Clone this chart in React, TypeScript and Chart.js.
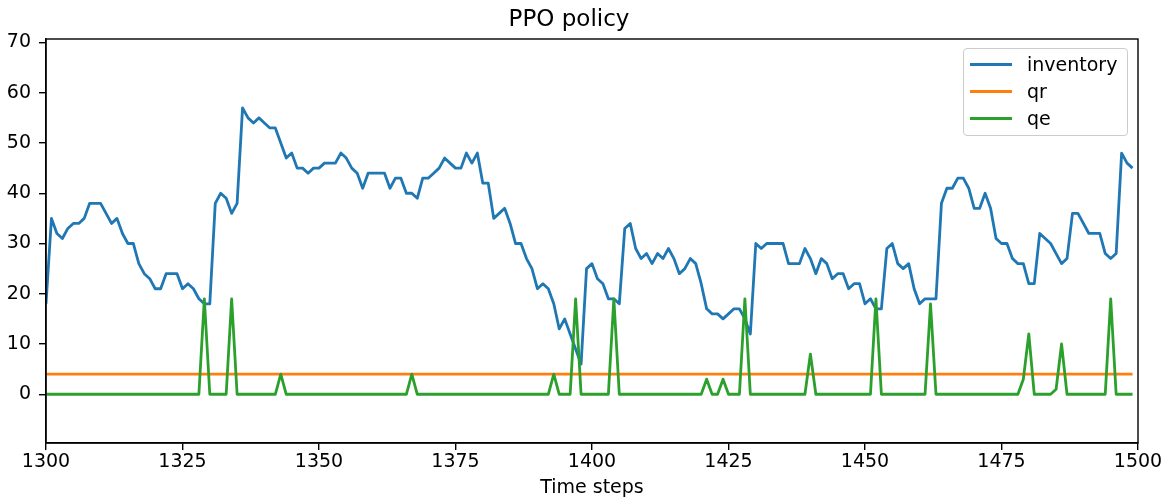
import React, { useEffect, useRef } from "react";
import { Chart, registerables } from "chart.js";

Chart.register(...registerables);

const startStep = 1300;

const inventory = [
  18, 35, 32, 31, 33, 34, 34, 35, 38, 38, 38, 36, 34, 35, 32, 30, 30, 26, 24, 23,
  21, 21, 24, 24, 24, 21, 22, 21, 19, 18, 18, 38, 40, 39, 36, 38, 57, 55, 54, 55,
  54, 53, 53, 50, 47, 48, 45, 45, 44, 45, 45, 46, 46, 46, 48, 47, 45, 44, 41, 44,
  44, 44, 44, 41, 43, 43, 40, 40, 39, 43, 43, 44, 45, 47, 46, 45, 45, 48, 46, 48,
  42, 42, 35, 36, 37, 34, 30, 30, 27, 25, 21, 22, 21, 18, 13, 15, 12, 9, 6, 25,
  26, 23, 22, 19, 19, 18, 33, 34, 29, 27, 28, 26, 28, 27, 29, 27, 24, 25, 27, 26,
  22, 17, 16, 16, 15, 16, 17, 17, 15, 12, 30, 29, 30, 30, 30, 30, 26, 26, 26, 29,
  27, 24, 27, 26, 23, 24, 24, 21, 22, 22, 18, 19, 17, 17, 29, 30, 26, 25, 26, 21,
  18, 19, 19, 19, 38, 41, 41, 43, 43, 41, 37, 37, 40, 37, 31, 30, 30, 27, 26, 26,
  22, 22, 32, 31, 30, 28, 26, 27, 36, 36, 34, 32, 32, 32, 28, 27, 28, 48, 46, 45,
];

const qe = [
  0, 0, 0, 0, 0, 0, 0, 0, 0, 0, 0, 0, 0, 0, 0, 0, 0, 0, 0, 0,
  0, 0, 0, 0, 0, 0, 0, 0, 0, 19, 0, 0, 0, 0, 19, 0, 0, 0, 0, 0,
  0, 0, 0, 4, 0, 0, 0, 0, 0, 0, 0, 0, 0, 0, 0, 0, 0, 0, 0, 0,
  0, 0, 0, 0, 0, 0, 0, 4, 0, 0, 0, 0, 0, 0, 0, 0, 0, 0, 0, 0,
  0, 0, 0, 0, 0, 0, 0, 0, 0, 0, 0, 0, 0, 4, 0, 0, 0, 19, 0, 0,
  0, 0, 0, 0, 19, 0, 0, 0, 0, 0, 0, 0, 0, 0, 0, 0, 0, 0, 0, 0,
  0, 3, 0, 0, 3, 0, 0, 0, 19, 0, 0, 0, 0, 0, 0, 0, 0, 0, 0, 0,
  8, 0, 0, 0, 0, 0, 0, 0, 0, 0, 0, 0, 19, 0, 0, 0, 0, 0, 0, 0,
  0, 0, 18, 0, 0, 0, 0, 0, 0, 0, 0, 0, 0, 0, 0, 0, 0, 0, 0, 3,
  12, 0, 0, 0, 0, 1, 10, 0, 0, 0, 0, 0, 0, 0, 0, 19, 0, 0, 0, 0,
];

const qrLevel = 4;

const xTicks = [1300, 1325, 1350, 1375, 1400, 1425, 1450, 1475, 1500];
const yTicks = [0, 10, 20, 30, 40, 50, 60, 70];

const seriesNames = ["inventory", "qr", "qe"];
const seriesColors = ["#1f77b4", "#ff7f0e", "#2ca02c"];

const FONT = "'DejaVu Sans', 'Liberation Sans', sans-serif";

export default function App() {
  const ref = useRef<HTMLCanvasElement | null>(null);

  useEffect(() => {
    document.body.style.margin = "0";
    const canvas = ref.current;
    if (!canvas) return;
    const steps = inventory.map((_, i) => startStep + i);

    const frame = {
      id: "frame",
      afterDatasetsDraw(chart: any) {
        const { ctx, chartArea: a } = chart;
        ctx.save();
        ctx.strokeStyle = "#000";
        ctx.lineWidth = 1.4;
        ctx.strokeRect(a.left, a.top, a.right - a.left, a.bottom - a.top);
        ctx.restore();
      },
    };

    const tickFont = { family: FONT, size: 19 };
    const lineStyle = {
      borderWidth: 2.8,
      pointRadius: 0,
      tension: 0,
      borderJoinStyle: "round",
      borderCapStyle: "butt",
    };

    const chart = new Chart(canvas, {
      type: "line",
      data: {
        datasets: [
          {
            label: seriesNames[0],
            data: steps.map((s, i) => ({ x: s, y: inventory[i] })),
            borderColor: seriesColors[0],
            backgroundColor: seriesColors[0],
            order: 2,
            ...lineStyle,
          },
          {
            label: seriesNames[1],
            data: steps.map((s) => ({ x: s, y: qrLevel })),
            borderColor: seriesColors[1],
            backgroundColor: seriesColors[1],
            order: 1,
            ...lineStyle,
          },
          {
            label: seriesNames[2],
            data: steps.map((s, i) => ({ x: s, y: qe[i] })),
            borderColor: seriesColors[2],
            backgroundColor: seriesColors[2],
            order: 0,
            ...lineStyle,
          },
        ],
      },
      options: {
        animation: false,
        responsive: false,
        maintainAspectRatio: false,
        layout: { padding: { left: 0, right: 28, top: 0, bottom: 0 } },
        plugins: {
          legend: { display: false },
          tooltip: { enabled: false },
          title: {
            display: true,
            text: "PPO policy",
            color: "#000",
            font: { family: FONT, size: 23, weight: "normal" },
            padding: { top: 6, bottom: 5.4 },
          },
        },
        scales: {
          x: {
            type: "linear",
            min: 1300,
            max: 1500,
            afterBuildTicks: (ax: any) => {
              ax.ticks = xTicks.map((v) => ({ value: v }));
            },
            afterFit: (ax: any) => {
              ax.height = 57;
            },
            grid: {
              drawOnChartArea: false,
              drawTicks: true,
              tickLength: 7,
              color: "#000",
              lineWidth: 1.4,
            },
            border: { display: true, color: "#000", width: 1.4 },
            ticks: {
              color: "#000",
              font: tickFont,
              padding: 1,
              maxRotation: 0,
              autoSkip: false,
              callback: (v: any) => String(v),
            },
            title: {
              display: true,
              text: "Time steps",
              color: "#000",
              font: { family: FONT, size: 19 },
              padding: { top: 0, bottom: 1 },
            },
          },
          y: {
            type: "linear",
            min: -9.7,
            max: 70.7,
            afterBuildTicks: (ax: any) => {
              ax.ticks = yTicks.map((v) => ({ value: v }));
            },
            afterFit: (ax: any) => {
              ax.width = 46;
            },
            grid: {
              drawOnChartArea: false,
              drawTicks: true,
              tickLength: 7,
              color: "#000",
              lineWidth: 1.4,
            },
            border: { display: true, color: "#000", width: 1.4 },
            ticks: {
              color: "#000",
              font: tickFont,
              padding: 8,
              autoSkip: false,
              callback: (v: any) => String(v),
            },
          },
        },
      },
      plugins: [frame],
    } as any);

    return () => chart.destroy();
  }, []);

  const rowCenters = [15, 42, 69];

  return (
    <div style={{ position: "absolute", left: 0, top: 0, width: 1166, height: 500, background: "#fff" }}>
      <canvas ref={ref} width={1166} height={500} style={{ display: "block", width: 1166, height: 500 }} />
      <div
        style={{
          position: "absolute",
          left: 963,
          top: 48,
          width: 165,
          height: 88,
          boxSizing: "border-box",
          border: "1px solid #cccccc",
          borderRadius: 4,
          background: "rgba(255,255,255,0.8)",
          fontFamily: FONT,
          fontSize: 19,
          color: "#000",
        }}
      >
        {seriesNames.map((name, i) => (
          <div key={name}>
            <div
              style={{
                position: "absolute",
                left: 6,
                top: rowCenters[i] - 1.5,
                width: 42,
                height: 3,
                background: seriesColors[i],
              }}
            />
            <div
              style={{
                position: "absolute",
                left: 63,
                top: rowCenters[i] - 12,
                height: 24,
                lineHeight: "24px",
                whiteSpace: "nowrap",
              }}
            >
              {name}
            </div>
          </div>
        ))}
      </div>
    </div>
  );
}
